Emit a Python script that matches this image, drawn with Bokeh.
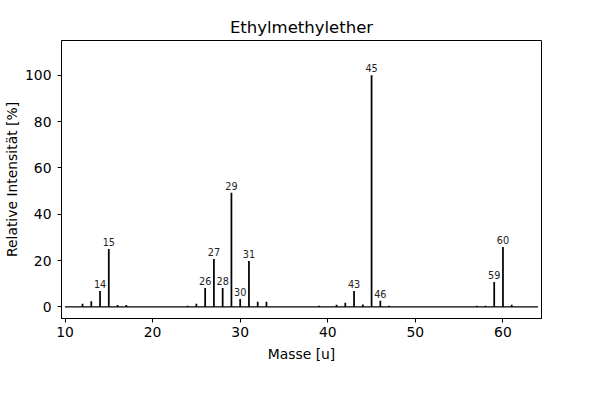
from bokeh.plotting import figure
from bokeh.models import ColumnDataSource, FixedTicker, Range1d
from bokeh.embed import file_html
from bokeh.resources import INLINE
from bokeh.core.properties import value

masses = [12, 13, 14, 15, 16, 17, 24, 25, 26, 27, 28, 29, 30, 31, 32, 33,
          39, 41, 42, 43, 44, 45, 46, 47, 57, 58, 59, 60, 61]
intens = [1.4, 2.5, 6.9, 25.0, 0.8, 0.8, 0.5, 1.4, 8.2, 20.7, 8.2, 49.3, 3.4, 19.8, 2.2, 2.2,
          0.5, 0.9, 1.8, 6.9, 1.0, 100.0, 2.7, 0.5, 0.5, 0.5, 10.8, 25.9, 0.9]
labeled = [14, 15, 26, 27, 28, 29, 30, 31, 43, 45, 46, 59, 60]
x_ticks = [10, 20, 30, 40, 50, 60]
y_ticks = [0, 20, 40, 60, 80, 100]
baseline_x = [10, 64]
baseline_y = [0, 0]

FONT = "DejaVu Sans"

p = figure(width=584, height=382, output_backend="svg", toolbar_location=None,
           title="Ethylmethylether",
           x_range=Range1d(9.6, 64.4), y_range=Range1d(-5, 115))
p.min_border_left = 60
p.min_border_right = 44
p.min_border_top = 40
p.min_border_bottom = 64
p.frame_width = 480
p.frame_height = 278

p.title.text_font = FONT
p.title.text_font_size = "16.5px"
p.title.text_font_style = "normal"
p.title.text_color = "black"
p.title.align = "center"
p.title.offset = 0
p.title.standoff = 8

p.xgrid.visible = False
p.ygrid.visible = False
p.outline_line_color = "black"
p.outline_line_width = 1

for ax in (p.xaxis, p.yaxis):
    ax.major_tick_in = 0
    ax.major_tick_out = 4
    ax.minor_tick_line_color = None
    ax.axis_line_color = "black"
    ax.major_tick_line_color = "black"
    ax.major_label_text_font = FONT
    ax.major_label_text_font_size = "13.9px"
    ax.major_label_text_color = "black"
    ax.axis_label_text_font = FONT
    ax.axis_label_text_font_size = "13.9px"
    ax.axis_label_text_font_style = "normal"
    ax.axis_label_text_color = "black"

p.xaxis.major_label_standoff = 4
p.yaxis.major_label_standoff = 6
p.xaxis.ticker = FixedTicker(ticks=x_ticks)
p.yaxis.ticker = FixedTicker(ticks=y_ticks)
p.xaxis.axis_label = "Masse [u]"
p.yaxis.axis_label = "Relative Intensität [%]"
p.xaxis.axis_label_standoff = 6
p.yaxis.axis_label_standoff = 2

p.line(baseline_x, baseline_y, line_color="black", line_width=1.3)

src = ColumnDataSource(dict(x=masses, top=intens))
p.vbar(x="x", top="top", bottom=0, width=0.2, source=src,
       fill_color="black", line_color=None)

lab_y = [intens[masses.index(m)] for m in labeled]
lab_src = ColumnDataSource(dict(x=labeled, y=lab_y, t=[str(m) for m in labeled]))
p.text(x="x", y="y", text="t", source=lab_src, text_align="center",
       text_baseline="alphabetic", y_offset=-7, text_font=value(FONT),
       text_font_size="9.7px", text_color="#222222")

open("out.html", "w").write(file_html(p, INLINE))
